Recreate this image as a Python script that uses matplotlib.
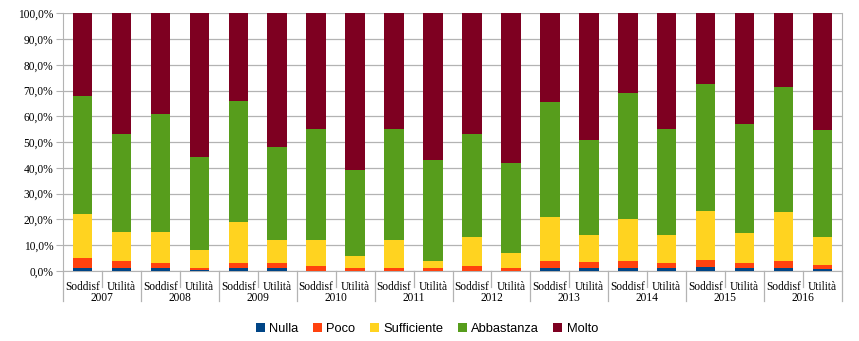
import numpy as np
import matplotlib.pyplot as plt
from matplotlib.patches import Patch
from matplotlib.ticker import FuncFormatter
from matplotlib.transforms import blended_transform_factory

# Years and the two questions asked each year
years = ["2007", "2008", "2009", "2010", "2011", "2012", "2013", "2014", "2015", "2016"]
questions = ["Soddisf", "Utilità"]

# Share of answers (%) per bar, ordered year by year: Soddisf, Utilità
nulla = [1, 1, 1, 0.3, 1, 1, 0, 0, 0, 0, 0, 0, 1, 1, 1, 1, 1.5, 1, 1, 0.8]
poco = [4, 3, 2, 1, 2, 2, 2, 1, 1, 1, 2, 1, 3, 2.5, 3, 2, 2.9, 2.2, 2.9, 1.5]
sufficiente = [17, 11, 12, 7, 16, 9, 10, 5, 11, 3, 11, 6, 17, 10.5, 16, 11, 18.9, 11.5, 19.1, 10.9]
abbastanza = [46, 38, 46, 36, 47, 36, 43, 33, 43, 39, 40, 35, 44.5, 37, 49, 41, 49.3, 42.2, 48.4, 41.4]
molto = [32, 47, 39, 56, 34, 52, 45, 61, 45, 57, 47, 58, 34.5, 49, 31, 45, 27.4, 43.1, 28.6, 45.4]

series = [
    ("Nulla", nulla, "#004586"),
    ("Poco", poco, "#ff420e"),
    ("Sufficiente", sufficiente, "#ffd320"),
    ("Abbastanza", abbastanza, "#579d1c"),
    ("Molto", molto, "#7e0021"),
]

grid_col = "#b3b3b3"
plt.rcParams["font.family"] = ["Liberation Serif", "DejaVu Serif"]

fig = plt.figure(figsize=(8.59, 3.41), dpi=100)
ax = fig.add_axes([63 / 859, 70 / 341, 779 / 859, 257.7 / 341])

x = np.arange(len(years) * len(questions))
bottom = np.zeros(len(x))
for name, vals, col in series:
    vals = np.array(vals, dtype=float)
    ax.bar(x, vals, 0.5, bottom=bottom, color=col, label=name, zorder=3)
    bottom += vals

ax.set_xlim(-0.5, len(x) - 0.5)
ax.set_ylim(0, 100)
ax.set_yticks(np.arange(0, 101, 10))
ax.yaxis.set_major_formatter(FuncFormatter(lambda v, p: f"{v:.1f}".replace(".", ",") + "%"))
ax.grid(axis="y", color=grid_col, linewidth=0.9, zorder=0)
ax.tick_params(axis="y", length=5, color=grid_col, labelsize=8.3, pad=2)

for side in ["left", "right", "bottom"]:
    ax.spines[side].set_color(grid_col)
ax.spines["top"].set_visible(False)

# First row of labels: question under each bar
ax.set_xticks(x)
ax.set_xticklabels(questions * len(years), fontsize=8.3)
ax.tick_params(axis="x", length=0, pad=7)

# Separators below the axis and year labels
trans = blended_transform_factory(ax.transData, ax.transAxes)
for i in range(len(x) + 1):
    pos = i - 0.5
    depth = -30 / 257.7 if i % 2 == 0 else -16 / 257.7
    ax.plot([pos, pos], [0, depth], color=grid_col, linewidth=0.9,
            transform=trans, clip_on=False)
for j, yr in enumerate(years):
    ax.text(2 * j + 0.5, -27 / 257.7, yr, transform=trans, ha="center",
            va="center", fontsize=8.3)

handles = [Patch(facecolor=c, label=n) for n, _, c in series]
fig.legend(handles=handles, loc="center", bbox_to_anchor=(427 / 859, 12 / 341),
           ncol=5, frameon=False, handlelength=0.7, handleheight=0.7,
           handletextpad=0.35, columnspacing=1.1,
           prop={"family": "Liberation Sans", "size": 9.3})

plt.savefig("out.png", dpi=100)
